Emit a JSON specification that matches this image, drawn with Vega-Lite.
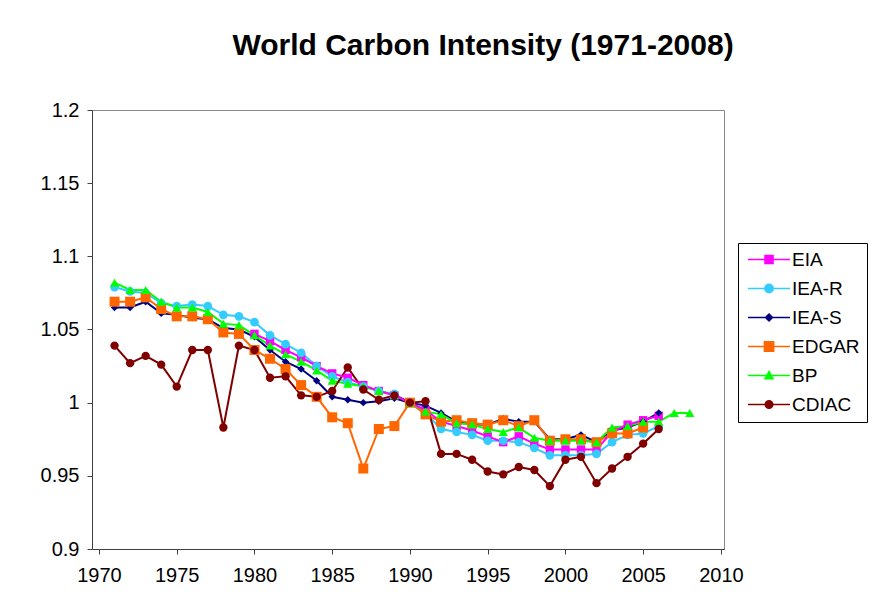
{
  "$schema": "https://vega.github.io/schema/vega-lite/v6.json",
  "width": 632,
  "height": 439,
  "autosize": {"type": "none"},
  "padding": {"left": 92, "top": 110, "right": 172, "bottom": 50},
  "background": "#ffffff",
  "title": {
    "text": "World Carbon Intensity (1971-2008)",
    "font": "Liberation Sans",
    "fontSize": 30,
    "fontWeight": "bold",
    "color": "#000000",
    "anchor": "middle",
    "dx": 75,
    "offset": 39
  },
  "data": {
    "values": [
      {"year": 1971, "IEA-R": 1.079, "IEA-S": 1.065, "EDGAR": 1.069, "BP": 1.082, "CDIAC": 1.039},
      {"year": 1972, "IEA-R": 1.076, "IEA-S": 1.065, "EDGAR": 1.069, "BP": 1.077, "CDIAC": 1.027},
      {"year": 1973, "IEA-R": 1.075, "IEA-S": 1.069, "EDGAR": 1.072, "BP": 1.077, "CDIAC": 1.032},
      {"year": 1974, "IEA-R": 1.068, "IEA-S": 1.061, "EDGAR": 1.064, "BP": 1.069, "CDIAC": 1.026},
      {"year": 1975, "IEA-R": 1.066, "IEA-S": 1.060, "EDGAR": 1.059, "BP": 1.065, "CDIAC": 1.011},
      {"year": 1976, "IEA-R": 1.067, "IEA-S": 1.058, "EDGAR": 1.059, "BP": 1.065, "CDIAC": 1.036},
      {"year": 1977, "IEA-R": 1.066, "IEA-S": 1.057, "EDGAR": 1.057, "BP": 1.062, "CDIAC": 1.036},
      {"year": 1978, "IEA-R": 1.060, "IEA-S": 1.051, "EDGAR": 1.048, "BP": 1.054, "CDIAC": 0.983},
      {"year": 1979, "IEA-R": 1.059, "IEA-S": 1.050, "EDGAR": 1.047, "BP": 1.053, "CDIAC": 1.039},
      {"year": 1980, "EIA": 1.047, "IEA-R": 1.055, "IEA-S": 1.045, "EDGAR": 1.036, "BP": 1.046, "CDIAC": 1.036},
      {"year": 1981, "EIA": 1.042, "IEA-R": 1.046, "IEA-S": 1.036, "EDGAR": 1.030, "BP": 1.039, "CDIAC": 1.017},
      {"year": 1982, "EIA": 1.036, "IEA-R": 1.040, "IEA-S": 1.028, "EDGAR": 1.023, "BP": 1.033, "CDIAC": 1.018},
      {"year": 1983, "EIA": 1.031, "IEA-R": 1.034, "IEA-S": 1.023, "EDGAR": 1.012, "BP": 1.028, "CDIAC": 1.005},
      {"year": 1984, "EIA": 1.025, "IEA-R": 1.025, "IEA-S": 1.015, "EDGAR": 1.004, "BP": 1.022, "CDIAC": 1.004},
      {"year": 1985, "EIA": 1.020, "IEA-R": 1.018, "IEA-S": 1.004, "EDGAR": 0.990, "BP": 1.015, "CDIAC": 1.008},
      {"year": 1986, "EIA": 1.017, "IEA-R": 1.014, "IEA-S": 1.002, "EDGAR": 0.986, "BP": 1.013, "CDIAC": 1.024},
      {"year": 1987, "EIA": 1.012, "IEA-R": 1.011, "IEA-S": 1.000, "EDGAR": 0.955, "BP": 1.011, "CDIAC": 1.009},
      {"year": 1988, "EIA": 1.008, "IEA-R": 1.008, "IEA-S": 1.001, "EDGAR": 0.982, "BP": 1.008, "CDIAC": 1.002},
      {"year": 1989, "EIA": 1.005, "IEA-R": 1.006, "IEA-S": 1.003, "EDGAR": 0.984, "BP": 1.005, "CDIAC": 1.005},
      {"year": 1990, "EIA": 1.000, "IEA-R": 1.000, "IEA-S": 1.000, "EDGAR": 1.000, "BP": 1.000, "CDIAC": 1.000},
      {"year": 1991, "EIA": 0.995, "IEA-R": 0.993, "IEA-S": 0.998, "EDGAR": 0.992, "BP": 0.994, "CDIAC": 1.001},
      {"year": 1992, "EIA": 0.987, "IEA-R": 0.982, "IEA-S": 0.993, "EDGAR": 0.987, "BP": 0.992, "CDIAC": 0.965},
      {"year": 1993, "EIA": 0.984, "IEA-R": 0.980, "IEA-S": 0.987, "EDGAR": 0.988, "BP": 0.986, "CDIAC": 0.965},
      {"year": 1994, "EIA": 0.981, "IEA-R": 0.978, "IEA-S": 0.985, "EDGAR": 0.986, "BP": 0.985, "CDIAC": 0.961},
      {"year": 1995, "EIA": 0.977, "IEA-R": 0.974, "IEA-S": 0.985, "EDGAR": 0.985, "BP": 0.982, "CDIAC": 0.953},
      {"year": 1996, "EIA": 0.973, "IEA-R": 0.974, "IEA-S": 0.989, "EDGAR": 0.988, "BP": 0.980, "CDIAC": 0.951},
      {"year": 1997, "EIA": 0.977, "IEA-R": 0.973, "IEA-S": 0.987, "EDGAR": 0.984, "BP": 0.983, "CDIAC": 0.956},
      {"year": 1998, "EIA": 0.972, "IEA-R": 0.969, "IEA-S": 0.987, "EDGAR": 0.988, "BP": 0.976, "CDIAC": 0.954},
      {"year": 1999, "EIA": 0.968, "IEA-R": 0.964, "IEA-S": 0.975, "EDGAR": 0.974, "BP": 0.974, "CDIAC": 0.943},
      {"year": 2000, "EIA": 0.968, "IEA-R": 0.964, "IEA-S": 0.975, "EDGAR": 0.975, "BP": 0.974, "CDIAC": 0.961},
      {"year": 2001, "EIA": 0.968, "IEA-R": 0.964, "IEA-S": 0.978, "EDGAR": 0.975, "BP": 0.974, "CDIAC": 0.963},
      {"year": 2002, "EIA": 0.968, "IEA-R": 0.965, "IEA-S": 0.973, "EDGAR": 0.973, "BP": 0.973, "CDIAC": 0.945},
      {"year": 2003, "EIA": 0.980, "IEA-R": 0.973, "IEA-S": 0.981, "EDGAR": 0.979, "BP": 0.983, "CDIAC": 0.955},
      {"year": 2004, "EIA": 0.985, "IEA-R": 0.978, "IEA-S": 0.983, "EDGAR": 0.979, "BP": 0.984, "CDIAC": 0.963},
      {"year": 2005, "EIA": 0.988, "IEA-R": 0.979, "IEA-S": 0.987, "EDGAR": 0.983, "BP": 0.987, "CDIAC": 0.972},
      {"year": 2006, "EIA": 0.991, "IEA-R": 0.984, "IEA-S": 0.993, "BP": 0.987, "CDIAC": 0.982},
      {"year": 2007, "BP": 0.993},
      {"year": 2008, "BP": 0.993}
    ]
  },
  "transform": [
    {"fold": ["EIA", "IEA-R", "IEA-S", "EDGAR", "BP", "CDIAC"], "as": ["series", "value"]},
    {"filter": "isValid(datum.value)"}
  ],
  "encoding": {
    "x": {
      "field": "year",
      "type": "quantitative",
      "scale": {"domain": [1969.55, 2010.2], "nice": false, "zero": false},
      "axis": {
        "title": null,
        "values": [1970, 1975, 1980, 1985, 1990, 1995, 2000, 2005, 2010],
        "format": "d",
        "grid": false,
        "labelFont": "Liberation Sans",
        "labelFontSize": 20,
        "labelColor": "#000000",
        "labelPadding": 11,
        "tickSize": 5,
        "tickColor": "#404040",
        "domainColor": "#404040",
        "labelFlush": false,
        "labelOverlap": false
      }
    },
    "y": {
      "field": "value",
      "type": "quantitative",
      "scale": {"domain": [0.9, 1.2], "nice": false, "zero": false},
      "axis": {
        "title": null,
        "values": [0.9, 0.95, 1, 1.05, 1.1, 1.15, 1.2],
        "format": "~g",
        "grid": false,
        "labelFont": "Liberation Sans",
        "labelFontSize": 20,
        "labelColor": "#000000",
        "labelPadding": 8,
        "tickSize": 5,
        "tickColor": "#404040",
        "domainColor": "#404040",
        "labelFlush": false,
        "labelOverlap": false
      }
    },
    "color": {
      "field": "series",
      "type": "nominal",
      "scale": {
        "domain": ["EIA", "IEA-R", "IEA-S", "EDGAR", "BP", "CDIAC"],
        "range": ["#ff00ff", "#33ccff", "#000080", "#ff6600", "#00ff00", "#800000"]
      },
      "legend": {
        "orient": "none",
        "legendX": 646,
        "legendY": 133,
        "title": null,
        "strokeColor": "#000000",
        "padding": 7,
        "labelFont": "Liberation Sans",
        "labelFontSize": 19,
        "labelColor": "#000000",
        "labelOffset": 28,
        "symbolSize": 306.25,
        "symbolStrokeWidth": 1.5,
        "rowPadding": 9,
        "encode": {
          "symbols": {
            "update": {
              "shape": {"signal": "datum.value === 'EIA' ? 'M-0.74,0L4.06,0M1.2,-0.46L2.12,-0.46L2.12,0.46L1.2,0.46Z' : datum.value === 'IEA-R' ? 'M-0.74,0L4.06,0M2.14,0A0.48,0.48,0,1,1,1.18,0A0.48,0.48,0,1,1,2.14,0Z' : datum.value === 'IEA-S' ? 'M-0.74,0L4.06,0M1.66,-0.4L2.06,0L1.66,0.4L1.26,0Z' : datum.value === 'EDGAR' ? 'M-0.74,0L4.06,0M1.13,-0.53L2.19,-0.53L2.19,0.53L1.13,0.53Z' : datum.value === 'BP' ? 'M-0.74,0L4.06,0M1.66,-0.46L2.12,0.38L1.2,0.38Z' : 'M-0.74,0L4.06,0M2.09,0A0.43,0.43,0,1,1,1.23,0A0.43,0.43,0,1,1,2.09,0Z'"},
              "size": {"value": 306.25},
              "fill": {"scale": "color", "field": "value"},
              "stroke": {"scale": "color", "field": "value"},
              "strokeWidth": {"value": 1.5},
              "opacity": {"value": 1},
              "fillOpacity": {"value": 1},
              "strokeOpacity": {"value": 1}
            }
          }
        }
      }
    }
  },
  "layer": [
    {"mark": {"type": "line", "strokeWidth": 2}},
    {
      "transform": [{"filter": "datum.series === 'EIA'"}],
      "mark": {"type": "point", "filled": true, "opacity": 1, "shape": "square", "size": 70}
    },
    {
      "transform": [{"filter": "datum.series === 'IEA-R'"}],
      "mark": {"type": "point", "filled": true, "opacity": 1, "shape": "circle", "size": 75}
    },
    {
      "transform": [{"filter": "datum.series === 'IEA-S'"}],
      "mark": {"type": "point", "filled": true, "opacity": 1, "shape": "diamond", "size": 55}
    },
    {
      "transform": [{"filter": "datum.series === 'EDGAR'"}],
      "mark": {"type": "point", "filled": true, "opacity": 1, "shape": "square", "size": 100}
    },
    {
      "transform": [{"filter": "datum.series === 'BP'"}],
      "mark": {"type": "point", "filled": true, "opacity": 1, "shape": "triangle-up", "size": 85}
    },
    {
      "transform": [{"filter": "datum.series === 'CDIAC'"}],
      "mark": {"type": "point", "filled": true, "opacity": 1, "shape": "circle", "size": 70}
    }
  ],
  "config": {
    "view": {"stroke": "#888888", "strokeWidth": 1},
    "font": "Liberation Sans"
  }
}
